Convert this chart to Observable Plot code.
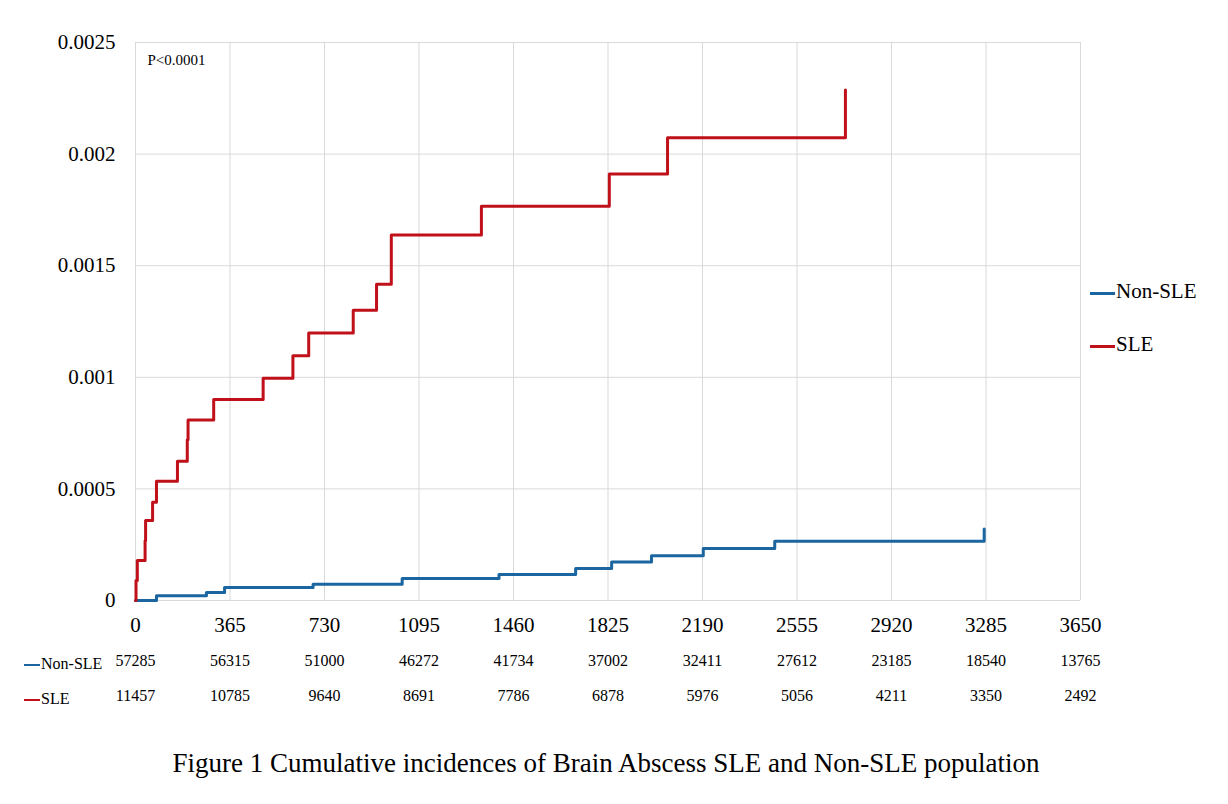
<!DOCTYPE html>
<html>
<head>
<meta charset="utf-8">
<script src="https://cdn.jsdelivr.net/npm/d3@7"></script>
<script src="https://cdn.jsdelivr.net/npm/@observablehq/plot@0.6"></script>
<style>
  body { margin: 0; background: #fff; font-family: "Liberation Serif", "Times New Roman", serif; }
  #wrap { position: relative; width: 1228px; height: 804px; }
  .leg { position: absolute; font-size: 21px; color: #000; white-space: nowrap; }
  .leg span.sw { display: inline-block; width: 25px; height: 0; border-top: 3px solid; vertical-align: middle; margin-right: 1px; }
  .row { position: absolute; font-size: 16px; color: #000; white-space: nowrap; }
  .row span.sw { display: inline-block; width: 16px; height: 0; border-top: 2px solid; vertical-align: middle; margin-right: 1px; }
  #caption { position: absolute; left: 0; width: 1212px; top: 748px; text-align: center; font-size: 27px; }
  svg text { font-family: "Liberation Serif", "Times New Roman", serif; }
</style>
</head>
<body>
<div id="wrap">
  <div id="chart"></div>
  <div class="leg" style="left:1090px; top:279px;"><span class="sw" style="border-color:#1B65A0"></span>Non-SLE</div>
  <div class="leg" style="left:1090px; top:332px;"><span class="sw" style="border-color:#C0101A"></span>SLE</div>
  <div class="row" style="left:24px; top:655px;"><span class="sw" style="border-color:#1B65A0"></span>Non-SLE</div>
  <div class="row" style="left:24px; top:690px;"><span class="sw" style="border-color:#C0101A"></span>SLE</div>
  <div id="caption">Figure 1 Cumulative incidences of Brain Abscess SLE and Non-SLE population</div>
</div>
<script>
// Time axis ticks (days)
const xTicks = [0, 365, 730, 1095, 1460, 1825, 2190, 2555, 2920, 3285, 3650];
const yTicks = [0, 0.0005, 0.001, 0.0015, 0.002, 0.0025];

// SLE cumulative incidence steps (day, value)
const sleDays   = [0, 2, 7, 37, 39, 66, 81, 162, 200, 203, 302, 493, 608, 669, 841, 931, 988, 1336, 1830, 2055, 2742];
const sleValues = [0, 0.0000895, 0.000179, 0.000268, 0.000358, 0.00044, 0.000534, 0.000624, 0.00072, 0.000809, 0.0009, 0.000996, 0.001097, 0.001198, 0.0013, 0.001417, 0.001638, 0.001766, 0.001911, 0.002073, 0.002287];

// Non-SLE cumulative incidence steps (day, value)
const nonDays   = [0, 81, 274, 344, 686, 1030, 1404, 1700, 1839, 1993, 2193, 2469, 3278];
const nonValues = [0, 0.000021, 0.0000358, 0.0000582, 0.000073, 0.000099, 0.000117, 0.000143, 0.000173, 0.0002, 0.000233, 0.000265, 0.00032];

// Numbers at risk
const riskNonSLE = [57285, 56315, 51000, 46272, 41734, 37002, 32411, 27612, 23185, 18540, 13765];
const riskSLE    = [11457, 10785, 9640, 8691, 7786, 6878, 5976, 5056, 4211, 3350, 2492];

const sle = sleDays.map((d, i) => ({day: d, value: sleValues[i]}));
const non = nonDays.map((d, i) => ({day: d, value: nonValues[i]}));
const riskNon = xTicks.map((d, i) => ({day: d, n: riskNonSLE[i]}));
const riskS = xTicks.map((d, i) => ({day: d, n: riskSLE[i]}));

const serif = "Liberation Serif, Times New Roman, serif";

const chart = Plot.plot({
  width: 1228,
  height: 730,
  marginTop: 42,
  marginBottom: 130,
  marginLeft: 135,
  marginRight: 148,
  style: {fontFamily: serif, fontSize: "21px", color: "#000", background: "#fff"},
  x: {domain: [0, 3650], label: null},
  y: {domain: [0, 0.0025], label: null},
  marks: [
    Plot.gridX(xTicks, {stroke: "#d9d9d9", strokeOpacity: 1, strokeWidth: 1}),
    Plot.gridY(yTicks, {stroke: "#d9d9d9", strokeOpacity: 1, strokeWidth: 1}),
    Plot.axisX(xTicks, {tickSize: 0, tickPadding: 17, fontSize: 21, fontFamily: serif, label: null, tickFormat: d => String(d)}),
    Plot.axisY(yTicks, {tickSize: 0, tickPadding: 20, fontSize: 21, fontFamily: serif, label: null, tickFormat: d => String(d)}),
    Plot.line(non, {x: "day", y: "value", curve: "step-after", stroke: "#1B65A0", strokeWidth: 3}),
    Plot.line(sle, {x: "day", y: "value", curve: "step-after", stroke: "#C0101A", strokeWidth: 3}),
    Plot.text(["P<0.0001"], {frameAnchor: "top-left", dx: 12, dy: 18, lineAnchor: "middle", textAnchor: "start", fontSize: 15, fontFamily: serif}),
    Plot.text(riskNon, {x: "day", text: d => String(d.n), frameAnchor: "bottom", dy: 65, fontSize: 16, fontFamily: serif}),
    Plot.text(riskS, {x: "day", text: d => String(d.n), frameAnchor: "bottom", dy: 100, fontSize: 16, fontFamily: serif})
  ]
});
document.getElementById("chart").appendChild(chart);
</script>
</body>
</html>
